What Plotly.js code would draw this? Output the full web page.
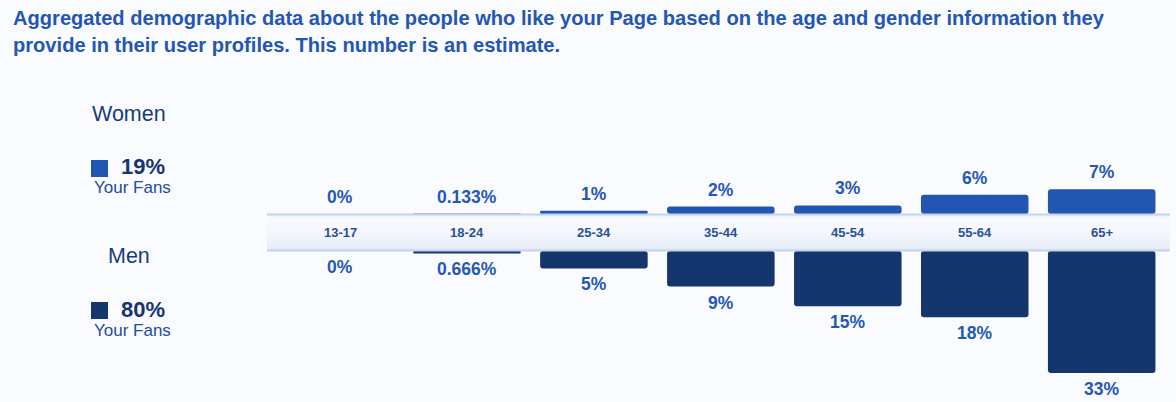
<!DOCTYPE html>
<html>
<head>
<meta charset="utf-8">
<script src="https://cdn.plot.ly/plotly-3.0.1.min.js"></script>
<style>
  html, body { margin: 0; padding: 0; background: #fafbfe; }
  #chart { width: 1176px; height: 402px; }
</style>
</head>
<body>
<div id="chart"></div>
<script>
// ---- data ----
const categories = ['13-17', '18-24', '25-34', '35-44', '45-54', '55-64', '65+'];
const womenValues = [0, 0.133, 0.9, 2.0, 2.3, 5.2, 6.7];
const menValues = [0, 0.666, 4.7, 9.6, 14.9, 17.9, 33.0];
const womenLabels = ['0%', '0.133%', '1%', '2%', '3%', '6%', '7%'];
const menLabels = ['0%', '0.666%', '5%', '9%', '15%', '18%', '33%'];
const womenTotal = '19%';
const menTotal = '80%';
const titleLines = [
  'Aggregated demographic data about the people who like your Page based on the age and gender information they',
  'provide in their user profiles. This number is an estimate.'
];

// ---- layout helpers ----
const W = 1176, H = 402;
const px = x => x / W;
const py = y => 1 - y / H;
const HALF = 5;               // half height of the age band, in data units
const WOMEN_COLOR = '#2356b0';
const MEN_COLOR = '#14366c';
const LABEL_COLOR = '#2558b4';
const FONT = 'Liberation Sans, Arial, sans-serif';

const traces = [
  {
    type: 'bar', name: 'Women', x: categories, y: womenValues, base: HALF,
    marker: { color: WOMEN_COLOR, cornerradius: 3 }, width: 0.847, hoverinfo: 'skip'
  },
  {
    type: 'bar', name: 'Men', x: categories, y: menValues.map(v => -v), base: -HALF,
    marker: { color: MEN_COLOR, cornerradius: 3 }, width: 0.847, hoverinfo: 'skip'
  }
];

const annotations = [];
categories.forEach((c, i) => {
  annotations.push({
    x: c, y: HALF + womenValues[i], xref: 'x', yref: 'y', text: '<b>' + womenLabels[i] + '</b>',
    showarrow: false, yanchor: 'middle', yshift: 17,
    font: { family: FONT, size: 17.5, color: LABEL_COLOR }
  });
  annotations.push({
    x: c, y: -HALF - menValues[i], xref: 'x', yref: 'y', text: '<b>' + menLabels[i] + '</b>',
    showarrow: false, yanchor: 'middle', yshift: -16,
    font: { family: FONT, size: 17.5, color: LABEL_COLOR }
  });
  annotations.push({
    x: c, y: 0, xref: 'x', yref: 'y', text: '<b>' + c + '</b>',
    showarrow: false, yanchor: 'middle',
    font: { family: FONT, size: 13, color: '#2a5099' }
  });
});

// title lines
titleLines.forEach((t, i) => {
  annotations.push({
    x: px(11), y: py(i === 0 ? 18 : 45), xref: 'paper', yref: 'paper', text: '<b>' + t + '</b>',
    showarrow: false, xanchor: 'left', yanchor: 'middle',
    font: { family: FONT, size: 20.1, color: '#2456b3' }
  });
});

// left legend
const legendText = [
  { text: 'Women', x: 128.5, y: 114, size: 21.5, color: '#173b7c', bold: false, anchor: 'center' },
  { text: womenTotal, x: 119, y: 166, size: 22, color: '#163570', bold: true, anchor: 'left' },
  { text: 'Your Fans', x: 132, y: 187.5, size: 17, color: '#1f4d9c', bold: false, anchor: 'center' },
  { text: 'Men', x: 128.5, y: 256, size: 21.5, color: '#173b7c', bold: false, anchor: 'center' },
  { text: menTotal, x: 119, y: 309.5, size: 22, color: '#163570', bold: true, anchor: 'left' },
  { text: 'Your Fans', x: 132, y: 330.5, size: 17, color: '#1f4d9c', bold: false, anchor: 'center' }
];
legendText.forEach(d => {
  annotations.push({
    x: px(d.x), y: py(d.y), xref: 'paper', yref: 'paper',
    text: d.bold ? '<b>' + d.text + '</b>' : d.text,
    showarrow: false, xanchor: d.anchor, yanchor: 'middle',
    font: { family: FONT, size: d.size, color: d.color }
  });
});

// shapes: age band with gradient (stacked strips) + legend squares
const shapes = [];
const bandX0 = px(267), bandX1 = px(1170);
const stops = [
  [0.00, [236, 241, 250]],
  [0.15, [247, 249, 253]],
  [0.45, [244, 247, 252]],
  [0.80, [233, 238, 248]],
  [1.00, [224, 231, 245]]
];
function colorAt(t) {
  for (let k = 0; k < stops.length - 1; k++) {
    const [t0, c0] = stops[k], [t1, c1] = stops[k + 1];
    if (t >= t0 && t <= t1) {
      const f = (t - t0) / (t1 - t0);
      const c = c0.map((v, j) => Math.round(v + (c1[j] - v) * f));
      return 'rgb(' + c.join(',') + ')';
    }
  }
  return 'rgb(224,231,245)';
}
const N = 24;
for (let k = 0; k < N; k++) {
  const y0 = HALF - (2 * HALF) * k / N;
  const y1 = HALF - (2 * HALF) * (k + 1) / N;
  shapes.push({
    type: 'rect', xref: 'paper', yref: 'y', x0: bandX0, x1: bandX1, y0: y1, y1: y0,
    fillcolor: colorAt((k + 0.5) / N), line: { width: 0 }, layer: 'above'
  });
}
shapes.push({ type: 'line', xref: 'paper', yref: 'y', x0: bandX0, x1: bandX1, y0: HALF - 0.15, y1: HALF - 0.15,
  line: { color: '#c3d3ee', width: 2 }, layer: 'above' });
shapes.push({ type: 'line', xref: 'paper', yref: 'y', x0: bandX0, x1: bandX1, y0: -HALF + 0.15, y1: -HALF + 0.15,
  line: { color: '#c3d3ee', width: 2 }, layer: 'above' });

[[160, WOMEN_COLOR], [302, MEN_COLOR]].forEach(([top, col]) => {
  shapes.push({
    type: 'rect', xref: 'paper', yref: 'paper', x0: px(91), x1: px(108), y0: py(top + 17), y1: py(top),
    fillcolor: col, line: { width: 0 }, layer: 'above'
  });
});

const layout = {
  width: W, height: H,
  margin: { l: 0, r: 0, t: 0, b: 0 },
  paper_bgcolor: '#fafbfe', plot_bgcolor: 'rgba(0,0,0,0)',
  showlegend: false, barmode: 'overlay',
  xaxis: {
    type: 'category', domain: [px(267), px(1170)], range: [-0.575, 6.538],
    visible: false, fixedrange: true
  },
  yaxis: {
    domain: [0, 252 / H], range: [-169.5 / 3.7, 82.5 / 3.7],
    visible: false, fixedrange: true
  },
  annotations: annotations,
  shapes: shapes,
  font: { family: FONT }
};

Plotly.newPlot('chart', traces, layout, { staticPlot: true, displayModeBar: false });
</script>
</body>
</html>
